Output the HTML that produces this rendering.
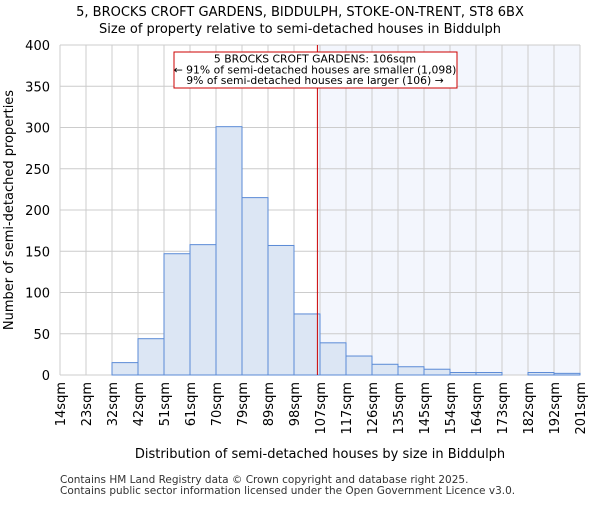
<!DOCTYPE html>
<html><head><meta charset="utf-8"><style>body{margin:0;background:#fff}svg{font-family:"DejaVu Sans","Liberation Sans",sans-serif}</style></head>
<body>
<svg id="chart" width="600" height="500" xmlns="http://www.w3.org/2000/svg">
<text x="300" y="16" text-anchor="middle" font-size="13">5, BROCKS CROFT GARDENS, BIDDULPH, STOKE-ON-TRENT, ST8 6BX</text>
<text x="300" y="33" text-anchor="middle" font-size="13">Size of property relative to semi-detached houses in Biddulph</text>
<g id="plot"></g>
<text transform="translate(13,210) rotate(-90)" text-anchor="middle" font-size="13">Number of semi-detached properties</text>
<text x="320" y="458" text-anchor="middle" font-size="13">Distribution of semi-detached houses by size in Biddulph</text>
<text x="60" y="483" font-size="10.5" fill="#333">Contains HM Land Registry data © Crown copyright and database right 2025.</text>
<text x="60" y="494" font-size="10.5" fill="#333">Contains public sector information licensed under the Open Government Licence v3.0.</text>
</svg>
<script>
const binLabels=["14sqm","23sqm","32sqm","42sqm","51sqm","61sqm","70sqm","79sqm","89sqm","98sqm","107sqm","117sqm","126sqm","135sqm","145sqm","154sqm","164sqm","173sqm","182sqm","192sqm","201sqm"];
const counts=[0,0,15,44,147,158,301,215,157,74,39,23,13,10,7,3,3,0,3,2];
const yTicks=[0,50,100,150,200,250,300,350,400];
const markerBin=9.9;
const NS="http://www.w3.org/2000/svg";
const L=60,R=580,T=45,B=375,yMax=400;
const bw=(R-L)/counts.length;
const x=i=>L+i*bw;
const y=v=>B-(v/yMax)*(B-T);
const g=document.getElementById('plot');
function mk(t,a){const e=document.createElementNS(NS,t);for(const k in a)e.setAttribute(k,a[k]);g.appendChild(e);return e;}
const sx=x(markerBin);
let e=mk('rect',{x:sx,y:T,width:R-sx,height:B-T,fill:'#f3f6fd'});


for(let i=0;i<binLabels.length;i++){
 e=mk('line',{x1:x(i),x2:x(i),y1:T,y2:B,stroke:'#ccc','stroke-width':1});
 
 
}
yTicks.forEach(v=>{
 e=mk('line',{x1:L,x2:R,y1:y(v),y2:y(v),stroke:'#ccc','stroke-width':1});
 
 
 e=mk('text',{x:L-10,y:y(v)+5,'text-anchor':'end','font-size':13});
 e.textContent=v;
 
 
});
counts.forEach((c,i)=>{
 if(c<=0)return;
 e=mk('rect',{x:x(i),y:y(c),width:bw,height:B-y(c),fill:'#dce6f4',stroke:'#5a8ad6','stroke-width':1});
 
 
});
binLabels.forEach((l,i)=>{
 e=mk('text',{transform:`translate(${x(i)+5},382) rotate(-90)`,'text-anchor':'end','font-size':13});
 e.textContent=l;
 
 
});
e=mk('line',{x1:sx,x2:sx,y1:T,y2:B,stroke:'#c00','stroke-width':1});


e=mk('rect',{x:174,y:52,width:283,height:36,fill:'#fff',stroke:'#c00','stroke-width':1});


["5 BROCKS CROFT GARDENS: 106sqm","← 91% of semi-detached houses are smaller (1,098)","9% of semi-detached houses are larger (106) →"].forEach((t,k)=>{
 e=mk('text',{x:315,y:62.5+k*10.8,'text-anchor':'middle','font-size':10.8});
 e.textContent=t;
 
 
});
</script>
</body></html>
